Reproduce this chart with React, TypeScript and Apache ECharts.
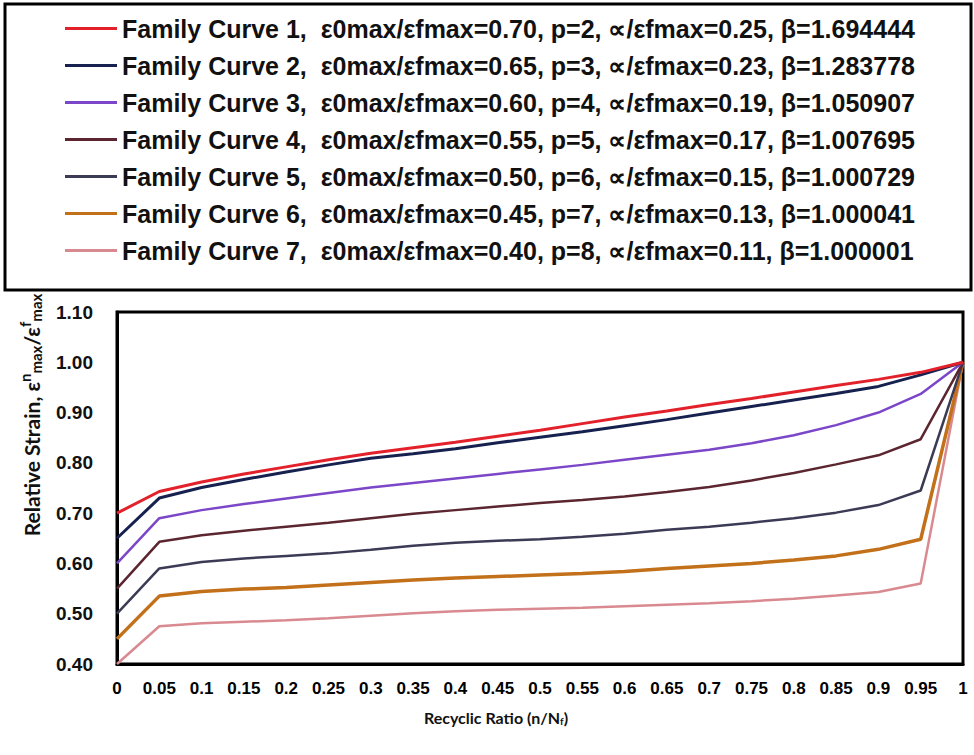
import React, { useEffect, useRef } from "react";
import * as echarts from "echarts";

const xLabels = ["0", "0.05", "0.1", "0.15", "0.2", "0.25", "0.3", "0.35", "0.4", "0.45", "0.5", "0.55", "0.6", "0.65", "0.7", "0.75", "0.8", "0.85", "0.9", "0.95", "1"];

const curve1 = [0.70, 0.743, 0.762, 0.778, 0.792, 0.806, 0.819, 0.830, 0.841, 0.853, 0.865, 0.878, 0.891, 0.903, 0.916, 0.928, 0.941, 0.954, 0.966, 0.980, 1.0];
const curve2 = [0.65, 0.730, 0.751, 0.767, 0.782, 0.796, 0.809, 0.818, 0.828, 0.840, 0.851, 0.862, 0.874, 0.886, 0.899, 0.912, 0.925, 0.938, 0.952, 0.975, 1.0];
const curve3 = [0.60, 0.690, 0.706, 0.718, 0.729, 0.740, 0.751, 0.760, 0.769, 0.778, 0.787, 0.796, 0.806, 0.816, 0.826, 0.839, 0.855, 0.875, 0.900, 0.937, 1.0];
const curve4 = [0.55, 0.643, 0.656, 0.665, 0.673, 0.681, 0.690, 0.699, 0.706, 0.713, 0.720, 0.726, 0.733, 0.742, 0.752, 0.765, 0.780, 0.797, 0.815, 0.847, 1.0];
const curve5 = [0.50, 0.590, 0.603, 0.610, 0.615, 0.620, 0.627, 0.635, 0.641, 0.645, 0.648, 0.653, 0.659, 0.667, 0.673, 0.681, 0.690, 0.701, 0.716, 0.745, 1.0];
const curve6 = [0.45, 0.535, 0.544, 0.549, 0.552, 0.557, 0.562, 0.567, 0.571, 0.574, 0.577, 0.580, 0.584, 0.590, 0.595, 0.600, 0.607, 0.615, 0.628, 0.648, 1.0];
const curve7 = [0.40, 0.475, 0.481, 0.484, 0.487, 0.491, 0.496, 0.501, 0.505, 0.508, 0.510, 0.512, 0.515, 0.518, 0.521, 0.525, 0.530, 0.536, 0.543, 0.560, 1.0];

const seriesNames = [
  "Family Curve 1,  ε0max/εfmax=0.70, p=2, ∝/εfmax=0.25, β=1.694444",
  "Family Curve 2,  ε0max/εfmax=0.65, p=3, ∝/εfmax=0.23, β=1.283778",
  "Family Curve 3,  ε0max/εfmax=0.60, p=4, ∝/εfmax=0.19, β=1.050907",
  "Family Curve 4,  ε0max/εfmax=0.55, p=5, ∝/εfmax=0.17, β=1.007695",
  "Family Curve 5,  ε0max/εfmax=0.50, p=6, ∝/εfmax=0.15, β=1.000729",
  "Family Curve 6,  ε0max/εfmax=0.45, p=7, ∝/εfmax=0.13, β=1.000041",
  "Family Curve 7,  ε0max/εfmax=0.40, p=8, ∝/εfmax=0.11, β=1.000001",
];

const yTicks = [0.4, 1.1, 0.1];

const colors = ["#e3212b", "#16214f", "#7b47c8", "#5b2630", "#3b3b56", "#c2701a", "#d98a90"];
const widths = [3, 3, 2.5, 2.5, 2.5, 3.5, 2.5];

const allCurves = [curve1, curve2, curve3, curve4, curve5, curve6, curve7];

export default function App() {
  const ref = useRef<HTMLDivElement>(null);
  useEffect(() => {
    document.body.style.margin = "0";
    if (!ref.current) return;
    const chart = echarts.init(ref.current, undefined, { renderer: "svg" });
    const baseFont = "'Liberation Sans', Arial, sans-serif";
    const titleFont = "Lato, 'Open Sans', sans-serif";
    chart.setOption({
      animation: false,
      backgroundColor: "#ffffff",
      color: colors,
      legend: {
        orient: "vertical",
        left: 65,
        top: 16,
        padding: 0,
        icon: "rect",
        itemWidth: 52,
        itemHeight: 3,
        itemGap: 12,
        selectedMode: false,
        textStyle: {
          fontFamily: baseFont,
          fontWeight: "bold",
          fontSize: 25,
          color: "#111",
        },
        data: seriesNames,
      },
      grid: {
        left: 117,
        right: 11,
        top: 312,
        bottom: 91,
        show: true,
        borderColor: "#000",
        borderWidth: 3,
        containLabel: false,
        outerBoundsMode: "none",
      },
      xAxis: {
        type: "category",
        data: xLabels,
        boundaryGap: false,
        axisLine: { show: true, lineStyle: { color: "#000", width: 3 } },
        axisTick: { show: false },
        splitLine: { show: false },
        axisLabel: {
          interval: 0,
          color: "#000",
          fontFamily: baseFont,
          fontWeight: "bold",
          fontSize: 17,
          margin: 16,
        },
      },
      yAxis: {
        type: "value",
        min: yTicks[0],
        max: yTicks[1],
        interval: yTicks[2],
        axisLine: { show: true, lineStyle: { color: "#000", width: 3 } },
        axisTick: { show: false },
        splitLine: { show: false },
        axisLabel: {
          color: "#111",
          fontFamily: baseFont,
          fontWeight: "bold",
          fontSize: 19,
          margin: 24,
          formatter: (v: number) => v.toFixed(2),
        },
      },
      series: allCurves.map((d, i) => ({
        name: seriesNames[i],
        type: "line",
        data: d,
        showSymbol: false,
        symbol: "none",
        smooth: false,
        z: 10 - i,
        lineStyle: { color: colors[i], width: widths[i] },
        itemStyle: { color: colors[i] },
      })),
      graphic: [
        {
          type: "polygon",
          z: 100,
          silent: true,
          shape: { points: [[5, 4], [971, 4], [971, 290], [5, 290]] },
          style: { fill: "none", stroke: "#000", lineWidth: 3 },
        },
        {
          type: "text",
          x: 31,
          y: 415,
          rotation: Math.PI / 2,
          style: {
            text: "{m|Relative Strain, ε}{sup|n}{sub|max}{m|/ε}{sup|f}{sub|max}",
            align: "center",
            verticalAlign: "middle",
            fill: "#111",
            rich: {
              m: { fontFamily: titleFont, fontWeight: "bold", fontSize: 21, fill: "#111" },
              sup: { fontFamily: titleFont, fontWeight: "bold", fontSize: 15, fill: "#111", padding: [0, 0, 12, 0] },
              sub: { fontFamily: titleFont, fontWeight: "bold", fontSize: 15, fill: "#111", padding: [10, 0, 0, 0] },
            },
          },
        },
        {
          type: "text",
          x: 496,
          y: 717,
          style: {
            text: "{m|Recyclic Ratio (n/N}{sub|f}{m|)}",
            align: "center",
            verticalAlign: "middle",
            fill: "#111",
            rich: {
              m: { fontFamily: titleFont, fontWeight: "bold", fontSize: 16, fill: "#111" },
              sub: { fontFamily: titleFont, fontWeight: "bold", fontSize: 10, fill: "#111", padding: [7, 0, 0, 0] },
            },
          },
        },
      ],
    });
    return () => chart.dispose();
  }, []);
  return <div ref={ref} style={{ width: 974, height: 755 }} />;
}
